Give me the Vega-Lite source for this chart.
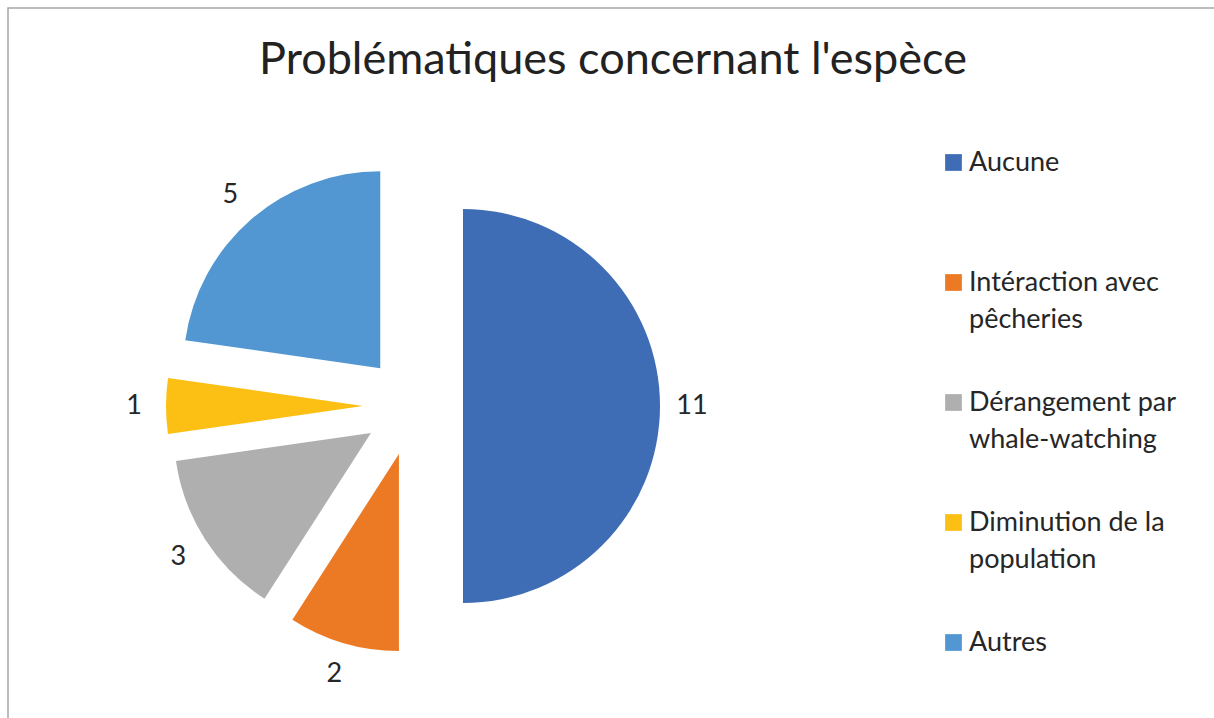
{
  "$schema": "https://vega.github.io/schema/vega-lite/v6.json",
  "width": 1210,
  "height": 714,
  "autosize": {"type": "none"},
  "padding": {"left": 8, "top": 8, "right": 0, "bottom": 0},
  "background": "white",
  "title": {
    "text": "Problématiques concernant l'espèce",
    "font": "Lato",
    "fontSize": 45,
    "fontWeight": "normal",
    "color": "#222222",
    "anchor": "middle",
    "frame": "group",
    "baseline": "alphabetic",
    "offset": -64,
    "dy": 47
  },
  "config": {"view": {"stroke": "#a6a6a6", "strokeWidth": 1.5}},
  "data": {
    "values": [
      {"cat": "Aucune", "n": 11},
      {"cat": "Intéraction avec pêcheries", "n": 2},
      {"cat": "Dérangement par whale-watching", "n": 3},
      {"cat": "Diminution de la population", "n": 1},
      {"cat": "Autres", "n": 5}
    ]
  },
  "transform": [
    {"window": [{"op": "sum", "field": "n", "as": "cum"}], "frame": [null, 0]},
    {"joinaggregate": [{"op": "sum", "field": "n", "as": "tot"}]},
    {"calculate": "datum.cum - datum.n", "as": "start"},
    {"calculate": "datum.cum - datum.n / 2", "as": "mid"},
    {"calculate": "sin(2 * PI * datum.mid / datum.tot)", "as": "ex"},
    {"calculate": "cos(2 * PI * datum.mid / datum.tot)", "as": "ey"}
  ],
  "encoding": {
    "x": {"field": "ex", "type": "quantitative", "scale": {"domain": [-8.1, 16.1], "nice": false, "zero": false}, "axis": null},
    "y": {"field": "ey", "type": "quantitative", "scale": {"domain": [-6.32, 7.96], "nice": false, "zero": false}, "axis": null}
  },
  "layer": [
    {
      "mark": {"type": "arc", "outerRadius": 197},
      "encoding": {
        "theta": {"field": "cum", "type": "quantitative", "stack": null, "scale": {"nice": false, "zero": true}},
        "theta2": {"field": "start"},
        "color": {
          "field": "cat",
          "type": "nominal",
          "scale": {
            "domain": ["Aucune", "Intéraction avec pêcheries", "Dérangement par whale-watching", "Diminution de la population", "Autres"],
            "range": ["#3e6db5", "#ec7a24", "#afafaf", "#fcbf14", "#5297d1"]
          },
          "legend": {
            "title": null,
            "orient": "none",
            "legendX": 932,
            "legendY": 141,
            "symbolType": "square",
            "symbolSize": 280,
            "symbolStrokeWidth": 0,
            "labelFont": "Lato",
            "labelFontSize": 27,
            "labelColor": "#262626",
            "labelOffset": 2,
            "labelLimit": 400,
            "labelBaseline": "middle",
            "rowPadding": 55,
            "gridAlign": "all",
            "labelExpr": "datum.label == 'Intéraction avec pêcheries' ? ['Intéraction avec', 'pêcheries'] : datum.label == 'Dérangement par whale-watching' ? ['Dérangement par', 'whale-watching'] : datum.label == 'Diminution de la population' ? ['Diminution de la', 'population'] : datum.label",
            "encode": {"labels": {"update": {"lineHeight": {"value": 37}}}}
          }
        }
      }
    },
    {
      "mark": {"type": "text", "radius": 229, "font": "Lato", "fontSize": 27, "color": "#262626", "align": "center", "baseline": "middle"},
      "encoding": {
        "theta": {"field": "mid", "type": "quantitative", "stack": null},
        "text": {"field": "n", "type": "quantitative"}
      }
    }
  ]
}
